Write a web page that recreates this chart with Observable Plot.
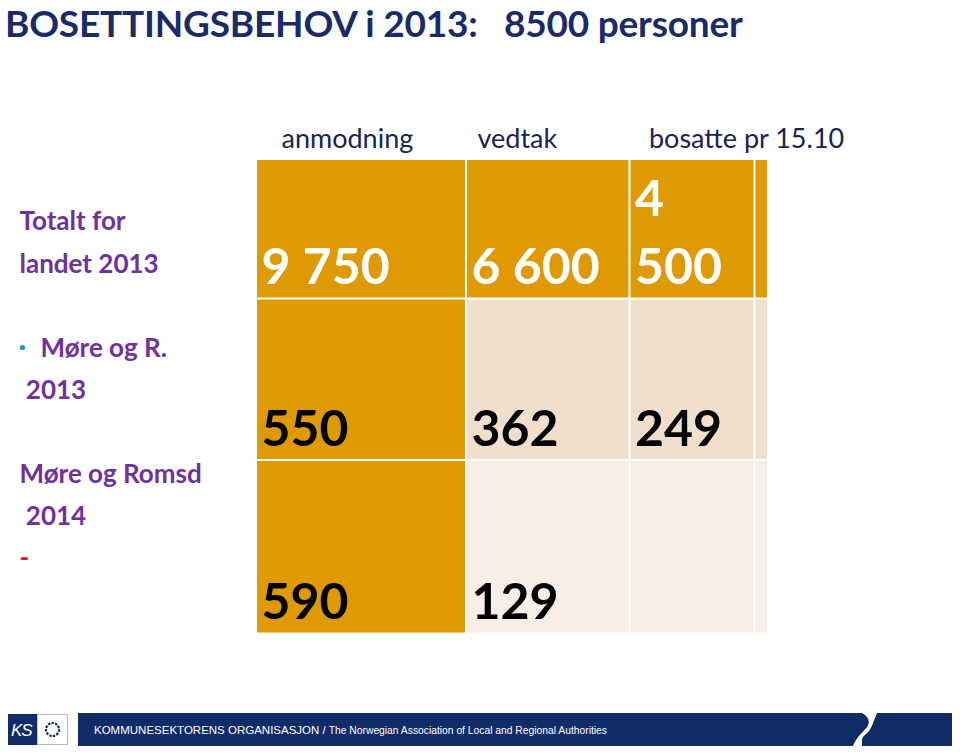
<!DOCTYPE html>
<html>
<head>
<meta charset="utf-8">
<script src="https://cdn.jsdelivr.net/npm/d3@7"></script>
<script src="https://cdn.jsdelivr.net/npm/@observablehq/plot@0.6"></script>
<style>
  html, body { margin: 0; padding: 0; background: #fff; }
  body { width: 960px; height: 756px; overflow: hidden; position: relative; font-family: Lato, "Open Sans", sans-serif; }
  #title { position: absolute; left: 5px; top: 1px; height: 50px; line-height: 44px; font-size: 37px; font-weight: 700; color: #1b2a68; white-space: pre; letter-spacing: -0.2px; }
  #chart { position: absolute; left: 0; top: 50px; }
  #footer { position: absolute; left: 0; top: 700px; width: 960px; height: 56px; }
</style>
</head>
<body>
<div id="title">BOSETTINGSBEHOV i 2013:   8500 personer</div>
<div id="chart"></div>
<div id="footer">
  <svg width="960" height="56" xmlns="http://www.w3.org/2000/svg">
    <rect x="8" y="14" width="29" height="31" fill="#102c68"/>
    <text x="11" y="36" font-family="Liberation Sans, Arial, sans-serif" font-style="italic" font-size="17" fill="#fff" letter-spacing="-1">KS</text>
    <rect x="37.5" y="14.5" width="30" height="30" fill="#fff" stroke="#b8bcc8" stroke-width="1"/>
    <circle cx="52.5" cy="29.5" r="6.5" fill="none" stroke="#102c68" stroke-width="2.2" stroke-dasharray="2.4 1.2"/>
    <rect x="78" y="13" width="874" height="33" fill="#102c68"/>
    <text x="94" y="34" font-family="Liberation Sans, Arial, sans-serif" fill="#fff"><tspan font-size="11.5">KOMMUNESEKTORENS ORGANISASJON /</tspan><tspan font-size="10.3" dx="3">The Norwegian Association of Local and Regional Authorities</tspan></text>
    <path d="M862 13 L877 13 C 874 20, 872 27, 869 31 C 866 35, 862 36, 862 40 L862 46 L853 46 C 856 38, 862 33, 867 27 C 871 22, 868 16, 862 13 Z" fill="#fff"/>
  </svg>
</div>
<script>
// ---- data ----
const columns = ["anmodning", "vedtak", "bosatte pr 15.10", ""];
const rowNames = ["Totalt for landet 2013", "Møre og R. 2013", "Møre og Romsd 2014"];
const anmodning = [9750, 550, 590];
const vedtak = [6600, 362, 129];
const bosatte = [4500, 249, null];
const ekstra = [null, null, null];
const rowLabelText = "Totalt for\nlandet 2013\n\n\n\u00a02013\n\nMøre og Romsd\n\u00a02014";
const bulletLabelText = "\n\n\nMøre og R.";
const dashText = "\n\n\n\n\n\n\n\n-";

// ---- layout (not data) ----
const colWidths = [210, 163.5, 125, 13.5];
const rowHeights = [139.5, 161.5, 173.5];
const headerIndent = [25, 11, 19];
const colStart = d3.cumsum([0, ...colWidths]);
const rowStart = d3.cumsum([0, ...rowHeights]);

const gold = "#de9a00";
const light1 = "#f1dfcd";
const light2 = "#f8eee6";
const purple = "#7030a0";
const navy = "#1a2352";

const series = [anmodning, vedtak, bosatte, ekstra];
const cells = [];
rowNames.forEach((r, ri) => {
  series.forEach((s, ci) => {
    cells.push({row: ri, col: ci, value: s[ri],
      x1: colStart[ci], x2: colStart[ci + 1], y1: rowStart[ri], y2: rowStart[ri + 1]});
  });
});
const headers = columns.map((c, i) => ({name: c, col: i, x: colStart[i]}));

const nb = d3.formatLocale({decimal: ",", thousands: "\u00a0", grouping: [3], currency: ["", ""]});
const fmt = v => v == null ? "" : nb.format(",")(v).replace(/\u00a0/g, " ");
const fillOf = d => (d.col === 0 || d.row === 0) ? gold : d.row === 1 ? light1 : light2;
const textOf = d => d.row === 0 ? "#ffffff" : "#000000";

const numberOpts = {
  x: "x1", y: "y2", text: d => fmt(d.value), fill: textOf,
  textAnchor: "start", lineAnchor: "bottom", dx: 5, dy: -15,
  fontSize: 50, fontWeight: 700, fontFamily: "Lato, sans-serif"
};
const labelOpts = {
  x: () => 0, y: () => 0, text: d => d, textAnchor: "start", lineAnchor: "top",
  dx: -237, dy: 41, lineHeight: 1.62, fontSize: 26, fontWeight: 700, fontFamily: "Lato, sans-serif"
};

const chart = Plot.plot({
  width: 960,
  height: 650,
  margin: 0,
  style: {background: "#fff", overflow: "visible"},
  x: {domain: [0, colStart[colStart.length - 1]], range: [256, 768], axis: null},
  y: {domain: [0, rowStart[rowStart.length - 1]], range: [109, 583.5], axis: null},
  marks: [
    Plot.rect(cells, {x1: "x1", x2: "x2", y1: "y1", y2: "y2", fill: fillOf, inset: 1}),
    ...headers.map(h => Plot.text([h], {x: "x", y: () => 0, text: "name", textAnchor: "start", lineAnchor: "bottom",
      dx: headerIndent[h.col], dy: -12, fontSize: 27, fill: navy, fontFamily: "Lato, sans-serif"})),
    Plot.text(cells.filter(d => d.col !== 2), numberOpts),
    Plot.text(cells.filter(d => d.col === 2), {...numberOpts, lineWidth: 2.3, lineHeight: 1.36}),
    Plot.text([rowLabelText], {...labelOpts, fill: purple}),
    Plot.text([bulletLabelText], {...labelOpts, dx: -216, fill: purple}),
    Plot.dot([0], {x: () => 0, y: () => 0, dx: -234, dy: 188, r: 2.6, fill: "#2a8fd0", stroke: null}),
    Plot.text([dashText], {...labelOpts, fill: "#e01a2a"})
  ]
});
document.getElementById("chart").appendChild(chart);
</script>
</body>
</html>
